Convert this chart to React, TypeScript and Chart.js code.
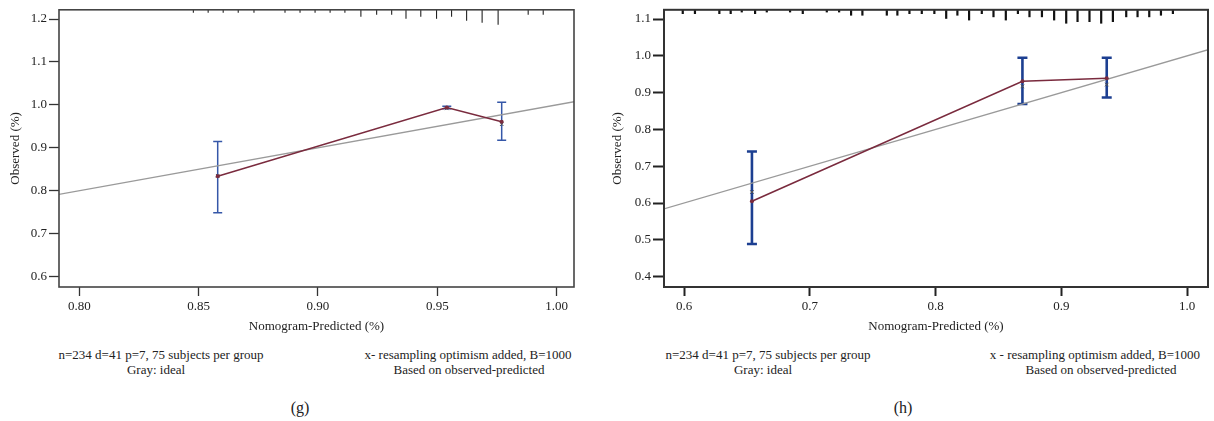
import React, { useEffect, useRef } from "react";
import { Chart, registerables } from "chart.js";
Chart.register(...registerables);

// ---------- Panel (g) data ----------
const gPredicted = [0.858, 0.954, 0.977];
const gObserved = [0.834, 0.994, 0.961];
const gCorrected = [0.835, 0.992, 0.955];
const gCiLow = [0.749, 0.991, 0.918];
const gCiHigh = [0.915, 0.997, 1.006];
const gXTicks = [0.8, 0.85, 0.9, 0.95, 1.0];
const gXTickLabels = ["0.80", "0.85", "0.90", "0.95", "1.00"];
const gYTicks = [0.6, 0.7, 0.8, 0.9, 1.0, 1.1, 1.2];
const gYTickLabels = ["0.6", "0.7", "0.8", "0.9", "1.0", "1.1", "1.2"];
const gRugX = [0.8478, 0.854, 0.8603, 0.8666, 0.8732, 0.8862, 0.8925, 0.8988, 0.9051, 0.9113, 0.918, 0.9246, 0.9309, 0.9369, 0.9431, 0.9497, 0.956, 0.9623, 0.9688, 0.9755, 0.9881, 0.9944];
const gRugCount = [1, 1, 1, 1, 1, 1, 1, 1, 1, 1, 3, 2, 2, 4, 3, 4, 3, 5, 6, 7, 2, 2];

// ---------- Panel (h) data ----------
const hPredicted = [0.654, 0.869, 0.936];
const hObserved = [0.605, 0.931, 0.939];
const hCorrected = [0.63, 0.917, 0.922];
const hCiLow = [0.489, 0.869, 0.887];
const hCiHigh = [0.74, 0.995, 0.995];
const hXTicks = [0.6, 0.7, 0.8, 0.9, 1.0];
const hXTickLabels = ["0.6", "0.7", "0.8", "0.9", "1.0"];
const hYTicks = [0.4, 0.5, 0.6, 0.7, 0.8, 0.9, 1.0, 1.1];
const hYTickLabels = ["0.4", "0.5", "0.6", "0.7", "0.8", "0.9", "1.0", "1.1"];
const hRugX = [0.599, 0.6087, 0.6281, 0.6371, 0.6459, 0.6565, 0.6658, 0.6843, 0.6944, 0.7135, 0.7233, 0.7328, 0.7418, 0.7612, 0.7696, 0.7792, 0.789, 0.799, 0.8084, 0.8173, 0.8266, 0.8367, 0.846, 0.8558, 0.8654, 0.8746, 0.8845, 0.8942, 0.9038, 0.9128, 0.9223, 0.9316, 0.9409, 0.9515, 0.9605, 0.9698, 0.9791, 0.9886];
const hRugCount = [2, 2, 2, 2, 1, 2, 1, 1, 2, 1, 1, 3, 3, 3, 3, 2, 2, 2, 5, 3, 6, 2, 4, 6, 2, 4, 4, 6, 8, 7, 7, 8, 7, 4, 4, 4, 3, 2];

const idealRange = [0.3, 1.3];

const FONT = "'Liberation Serif', 'Times New Roman', serif";
const TEXT = "#222";

type Spec = {
  width: number; height: number;
  plotLeft: number; plotRight: number; plotTop: number; plotBottom: number;
  xRange: number[]; yRange: number[];
  xTicks: number[]; xTickLabels: string[]; yTicks: number[]; yTickLabels: string[];
  predicted: number[]; observed: number[]; corrected: number[]; ciLow: number[]; ciHigh: number[];
  rugX: number[]; rugCount: number[];
  rugUnit: number; rugWidth: number; rugColor: string;
  barColor: string; barWidth: number; capHalf: number;
  boxColor: string; boxWidth: number; tickColor: string; tickWidth: number;
  yTickLen: number; yTitleCenter: number;
};

function Panel({ spec }: { spec: Spec }) {
  const ref = useRef<HTMLCanvasElement | null>(null);
  useEffect(() => {
    if (!ref.current) return;
    const s = spec;
    const decor = {
      id: "decor",
      beforeDatasetsDraw(chart: any) {
        const ctx = chart.ctx;
        const xs = chart.scales.x, ys = chart.scales.y;
        ctx.save();
        ctx.strokeStyle = s.barColor;
        ctx.lineWidth = s.barWidth;
        ctx.lineCap = "butt";
        for (let i = 0; i < s.predicted.length; i++) {
          const px = xs.getPixelForValue(s.predicted[i]);
          const y1 = ys.getPixelForValue(s.ciLow[i]);
          const y2 = ys.getPixelForValue(s.ciHigh[i]);
          ctx.beginPath();
          ctx.moveTo(px, y1); ctx.lineTo(px, y2);
          ctx.moveTo(px - s.capHalf, y1); ctx.lineTo(px + s.capHalf, y1);
          ctx.moveTo(px - s.capHalf, y2); ctx.lineTo(px + s.capHalf, y2);
          ctx.stroke();
        }
        ctx.restore();
      },
      afterDraw(chart: any) {
        const ctx = chart.ctx;
        const a = chart.chartArea;
        const xs = chart.scales.x;
        ctx.save();
        ctx.strokeStyle = s.rugColor;
        ctx.lineWidth = s.rugWidth;
        for (let i = 0; i < s.rugX.length; i++) {
          const px = xs.getPixelForValue(s.rugX[i]);
          if (px < a.left || px > a.right) continue;
          ctx.beginPath();
          ctx.moveTo(px, a.top);
          ctx.lineTo(px, a.top + s.rugCount[i] * s.rugUnit + 1);
          ctx.stroke();
        }
        ctx.strokeStyle = s.boxColor;
        ctx.lineWidth = s.boxWidth;
        ctx.strokeRect(a.left, a.top, a.right - a.left, a.bottom - a.top);
        ctx.restore();
      },
    };
    const font = { family: FONT, size: 13 };
    const lookup = (ticks: number[], labels: string[]) => (v: any) => {
      const i = ticks.findIndex((t) => Math.abs(t - Number(v)) < 1e-9);
      return i >= 0 ? labels[i] : "";
    };
    const chart = new Chart(ref.current, {
      type: "scatter",
      data: {
        datasets: [
          {
            type: "line",
            data: idealRange.map((v) => ({ x: v, y: v })),
            borderColor: "#9a9a9a",
            borderWidth: 1.3,
            pointRadius: 0,
            fill: false,
            order: 3,
          } as any,
          {
            type: "line",
            data: s.predicted.map((v, i) => ({ x: v, y: s.observed[i] })),
            borderColor: "#7a2b3e",
            borderWidth: 1.6,
            pointRadius: 2,
            pointBackgroundColor: "#7a2b3e",
            pointBorderWidth: 0,
            fill: false,
            order: 1,
          } as any,
          {
            type: "scatter",
            data: s.predicted.map((v, i) => ({ x: v, y: s.corrected[i] })),
            pointStyle: "crossRot",
            pointRadius: 2.5,
            borderColor: "#555",
            borderWidth: 1,
            order: 2,
          } as any,
        ],
      },
      options: {
        animation: false,
        responsive: false,
        events: [],
        layout: { padding: { top: s.plotTop, right: s.width - s.plotRight, left: 0, bottom: 0 } },
        plugins: { legend: { display: false }, tooltip: { enabled: false } },
        scales: {
          x: {
            type: "linear",
            min: s.xRange[0],
            max: s.xRange[1],
            afterFit: (sc: any) => { sc.height = s.height - s.plotBottom; },
            afterBuildTicks: (sc: any) => { sc.ticks = s.xTicks.map((v) => ({ value: v })); },
            ticks: { callback: lookup(s.xTicks, s.xTickLabels), font, color: TEXT, padding: 3, maxRotation: 0, autoSkip: false },
            grid: { drawOnChartArea: false, drawTicks: true, tickLength: 9, tickColor: s.tickColor, tickWidth: s.tickWidth },
            border: { display: false },
            title: { display: true, text: "Nomogram-Predicted (%)", font, color: TEXT, padding: { top: 0, bottom: 10.5 } },
          },
          y: {
            type: "linear",
            min: s.yRange[0],
            max: s.yRange[1],
            afterFit: (sc: any) => { sc.width = s.plotLeft; },
            afterBuildTicks: (sc: any) => { sc.ticks = s.yTicks.map((v) => ({ value: v })); },
            ticks: { callback: lookup(s.yTicks, s.yTickLabels), font, color: TEXT, padding: 2, autoSkip: false },
            grid: { drawOnChartArea: false, drawTicks: true, tickLength: s.yTickLen, tickColor: s.tickColor, tickWidth: s.tickWidth },
            border: { display: false },
            title: { display: true, text: "Observed (%)", font, color: TEXT, padding: { top: s.yTitleCenter - 7.8, bottom: 0 } },
          },
        },
      } as any,
      plugins: [decor],
    });
    return () => chart.destroy();
  }, [spec]);
  return <canvas ref={ref} width={spec.width} height={spec.height} style={{ width: spec.width, height: spec.height, display: "block" }} />;
}

const gSpec: Spec = {
  width: 600, height: 345, plotLeft: 59, plotRight: 574, plotTop: 8, plotBottom: 287,
  xRange: [0.7915, 1.0073], yRange: [0.576, 1.2215],
  xTicks: gXTicks, xTickLabels: gXTickLabels, yTicks: gYTicks, yTickLabels: gYTickLabels,
  predicted: gPredicted, observed: gObserved, corrected: gCorrected, ciLow: gCiLow, ciHigh: gCiHigh,
  rugX: gRugX, rugCount: gRugCount, rugUnit: 2, rugWidth: 1.1, rugColor: "#222",
  barColor: "#3557a8", barWidth: 1.5, capHalf: 4.5,
  boxColor: "#444", boxWidth: 1.6, tickColor: "#333", tickWidth: 1.3,
  yTickLen: 10, yTitleCenter: 16,
};

const hSpec: Spec = {
  width: 614, height: 345, plotLeft: 64, plotRight: 608, plotTop: 8, plotBottom: 287,
  xRange: [0.5841, 1.0165], yRange: [0.372, 1.1251],
  xTicks: hXTicks, xTickLabels: hXTickLabels, yTicks: hYTicks, yTickLabels: hYTickLabels,
  predicted: hPredicted, observed: hObserved, corrected: hCorrected, ciLow: hCiLow, ciHigh: hCiHigh,
  rugX: hRugX, rugCount: hRugCount, rugUnit: 1.6, rugWidth: 2.2, rugColor: "#111",
  barColor: "#1c3f91", barWidth: 2.6, capHalf: 5,
  boxColor: "#333", boxWidth: 2, tickColor: "#222", tickWidth: 2,
  yTickLen: 11, yTitleCenter: 18,
};

const textStyle = (cx: number, cy: number, size: number): React.CSSProperties => ({
  position: "absolute",
  left: cx,
  top: cy - size * 0.6,
  transform: "translateX(-50%)",
  whiteSpace: "nowrap",
  fontFamily: FONT,
  fontSize: size,
  lineHeight: `${size * 1.2}px`,
  color: TEXT,
});

export default function App() {
  return (
    <div style={{ position: "absolute", left: 0, top: 0, width: 1214, height: 421, background: "#fff", overflow: "hidden" }}>
      <div style={{ position: "absolute", left: 0, top: 0 }}>
        <Panel spec={gSpec} />
      </div>
      <div style={{ position: "absolute", left: 600, top: 0 }}>
        <Panel spec={hSpec} />
      </div>
      <div style={textStyle(161, 355, 13)}>n=234 d=41 p=7, 75 subjects per group</div>
      <div style={textStyle(156, 370, 13)}>Gray: ideal</div>
      <div style={textStyle(468, 355, 13)}>x- resampling optimism added, B=1000</div>
      <div style={textStyle(469, 370, 13)}>Based on observed-predicted</div>
      <div style={textStyle(300, 408, 16)}>(g)</div>
      <div style={textStyle(768, 355, 13)}>n=234 d=41 p=7, 75 subjects per group</div>
      <div style={textStyle(763, 370, 13)}>Gray: ideal</div>
      <div style={textStyle(1095, 355, 13)}>x - resampling optimism added, B=1000</div>
      <div style={textStyle(1101, 370, 13)}>Based on observed-predicted</div>
      <div style={textStyle(903, 408, 16)}>(h)</div>
    </div>
  );
}
